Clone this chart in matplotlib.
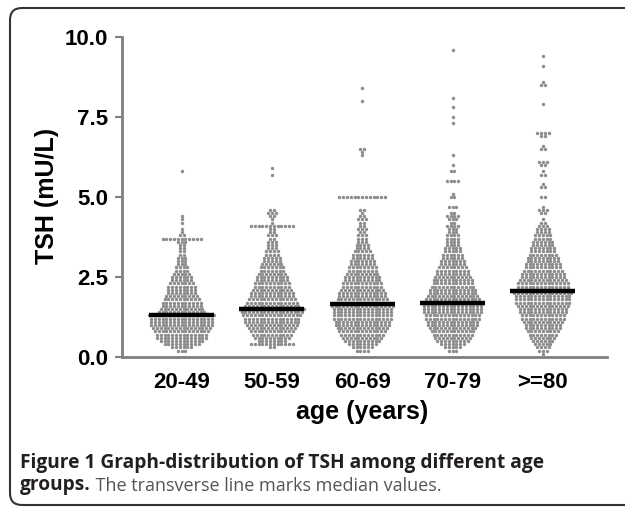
import numpy as np
import matplotlib.pyplot as plt
from matplotlib.patches import FancyBboxPatch

groups = ['20-49', '50-59', '60-69', '70-79', '>=80']
medians = [1.3, 1.5, 1.65, 1.7, 2.05]

# TSH value (mU/L) of each row of dots, and how many dots sit on it
g1_tsh = [0.2, 0.3, 0.4, 0.5, 0.6, 0.7, 0.8, 0.9, 1.0, 1.1, 1.2, 1.3, 1.4, 1.5, 1.6,
          1.7, 1.8, 1.9, 2.0, 2.1, 2.2, 2.3, 2.4, 2.5, 2.6, 2.7, 2.8, 2.9, 3.0, 3.1,
          3.2, 3.3, 3.4, 3.5, 3.6, 3.7, 3.8, 3.9, 4.0, 4.2, 4.3, 4.4, 5.8]
g1_n = [3, 6, 10, 12, 14, 14, 15, 16, 17, 17, 17, 18, 13, 12, 11,
        11, 10, 9, 8, 8, 8, 7, 6, 6, 5, 4, 4, 3, 3, 3,
        2, 2, 2, 2, 3, 11, 2, 1, 1, 1, 1, 1, 1]

g2_tsh = [0.3, 0.4, 0.5, 0.6, 0.7, 0.8, 0.9, 1.0, 1.1, 1.2, 1.3, 1.4, 1.5, 1.6, 1.7,
          1.8, 1.9, 2.0, 2.1, 2.2, 2.3, 2.4, 2.5, 2.6, 2.7, 2.8, 2.9, 3.0, 3.1, 3.2,
          3.3, 3.4, 3.5, 3.6, 3.7, 3.8, 3.9, 4.0, 4.1, 4.2, 4.3, 4.4, 4.5, 4.6, 5.7, 5.9]
g2_n = [2, 12, 8, 10, 11, 12, 13, 14, 15, 15, 16, 17, 18, 15, 14,
        13, 12, 12, 11, 10, 10, 9, 9, 8, 7, 7, 6, 5, 5, 4,
        4, 3, 3, 3, 2, 3, 2, 2, 12, 1, 1, 2, 3, 2, 1, 1]

g3_tsh = [0.2, 0.3, 0.4, 0.5, 0.6, 0.7, 0.8, 0.9, 1.0, 1.1, 1.2, 1.3, 1.4, 1.5, 1.6,
          1.7, 1.8, 1.9, 2.0, 2.1, 2.2, 2.3, 2.4, 2.5, 2.6, 2.7, 2.8, 2.9, 3.0, 3.1,
          3.2, 3.3, 3.4, 3.5, 3.6, 3.7, 3.8, 3.9, 4.0, 4.1, 4.2, 4.3, 4.4, 4.5, 4.6,
          5.0, 6.3, 6.4, 6.5, 8.0, 8.4]
g3_n = [4, 6, 8, 10, 11, 12, 13, 14, 15, 15, 16, 16, 16, 16, 17,
        15, 14, 13, 13, 12, 11, 11, 10, 10, 9, 8, 8, 7, 7, 6,
        6, 5, 4, 4, 3, 3, 3, 2, 3, 2, 2, 3, 2, 1, 2,
        13, 1, 1, 2, 1, 1]

g4_tsh = [0.2, 0.3, 0.4, 0.5, 0.6, 0.7, 0.8, 0.9, 1.0, 1.1, 1.2, 1.3, 1.4, 1.5, 1.6,
          1.7, 1.8, 1.9, 2.0, 2.1, 2.2, 2.3, 2.4, 2.5, 2.6, 2.7, 2.8, 2.9, 3.0, 3.1,
          3.2, 3.3, 3.4, 3.5, 3.6, 3.7, 3.8, 3.9, 4.0, 4.1, 4.2, 4.3, 4.4, 4.5, 4.7,
          5.0, 5.1, 5.5, 5.8, 6.0, 6.3, 7.3, 7.5, 7.8, 8.1, 9.6]
g4_n = [3, 5, 7, 9, 10, 11, 12, 13, 14, 14, 15, 15, 16, 16, 16,
        17, 15, 14, 13, 13, 12, 11, 11, 10, 9, 9, 8, 7, 7, 6,
        6, 5, 5, 4, 4, 4, 4, 3, 3, 4, 2, 3, 4, 2, 3,
        2, 1, 4, 2, 1, 1, 1, 1, 1, 1, 1]

g5_tsh = [0.1, 0.2, 0.3, 0.4, 0.5, 0.6, 0.7, 0.8, 0.9, 1.0, 1.1, 1.2, 1.3, 1.4, 1.5,
          1.6, 1.7, 1.8, 1.9, 2.0, 2.1, 2.2, 2.3, 2.4, 2.5, 2.6, 2.7, 2.8, 2.9, 3.0,
          3.1, 3.2, 3.3, 3.4, 3.5, 3.6, 3.7, 3.8, 3.9, 4.0, 4.1, 4.2, 4.3, 4.5, 4.6,
          4.7, 5.0, 5.3, 5.4, 5.7, 5.8, 6.0, 6.1, 6.5, 6.6, 6.9, 7.0, 7.9, 8.5, 8.6,
          9.1, 9.4]
g5_n = [1, 3, 4, 5, 6, 7, 8, 9, 10, 10, 11, 12, 12, 13, 13,
        14, 15, 15, 15, 16, 15, 14, 14, 13, 12, 12, 11, 10, 10, 9,
        9, 8, 7, 7, 6, 6, 5, 5, 4, 4, 3, 2, 1, 2, 3,
        1, 2, 2, 1, 2, 1, 2, 3, 2, 1, 2, 4, 1, 2, 1,
        1, 1]

all_tsh = [g1_tsh, g2_tsh, g3_tsh, g4_tsh, g5_tsh]
all_n = [g1_n, g2_n, g3_n, g4_n, g5_n]


def swarm(ax, pos, tsh, counts, step=0.042):
    # lay each row of equal values out side by side, centred on the group
    xs, ys = [], []
    for v, n in zip(tsh, counts):
        offs = (np.arange(n) - (n - 1) / 2) * step
        xs.extend(pos + offs)
        ys.extend([v] * n)
    ax.scatter(xs, ys, s=6, color='#8c8c8c', linewidths=0, zorder=2)


fig = plt.figure(figsize=(6.25, 5.07), dpi=100)
ax = fig.add_axes([122 / 625, 1 - 357 / 507, 485 / 625, 320 / 507])

for i in range(len(groups)):
    swarm(ax, i, all_tsh[i], all_n[i])
    ax.hlines(medians[i], i - 0.36, i + 0.36, color='black', lw=3.2, zorder=3)

ax.set_xlim(-0.66, 4.71)
ax.set_ylim(0, 10)
ax.set_yticks([0, 2.5, 5, 7.5, 10])
ax.set_yticklabels(['0.0', '2.5', '5.0', '7.5', '10.0'])
ax.set_xticks(range(len(groups)))
ax.set_xticklabels(groups)

for side in ['top', 'right']:
    ax.spines[side].set_visible(False)
for side in ['left', 'bottom']:
    ax.spines[side].set_color('#7f7f7f')
    ax.spines[side].set_linewidth(2)

ax.tick_params(axis='y', length=5, width=1.5, color='#7f7f7f', pad=5)
ax.tick_params(axis='x', length=0, pad=11)
for lab in ax.get_xticklabels() + ax.get_yticklabels():
    lab.set_family('Liberation Sans')
    lab.set_weight('bold')
    lab.set_size(16)

fig.text(362 / 625, 1 - 412 / 507, 'age (years)', ha='center', va='center',
         fontsize=18, fontweight='bold', family='Liberation Sans')
fig.text(47 / 625, 1 - 196 / 507, 'TSH (mU/L)', ha='center', va='center', rotation=90,
         fontsize=18, fontweight='bold', family='Liberation Sans')

# caption frame, cut off by the right edge like the journal page
box = FancyBboxPatch((0.1, 0.02), 6.4, 4.97, boxstyle='round,pad=0,rounding_size=0.12',
                     transform=fig.dpi_scale_trans, fc='none', ec='#333333', lw=1.5)
fig.add_artist(box)

fig.text(20 / 625, 1 - 468 / 507, 'Figure 1 Graph-distribution of TSH among different age',
         family='Open Sans', fontweight='bold', fontsize=13.8, color='#231f20', va='baseline')
t2 = fig.text(20 / 625, 1 - 490 / 507, 'groups.', family='Open Sans', fontweight='bold',
              fontsize=13.8, color='#231f20', va='baseline')
ax.annotate(' The transverse line marks median values.', xy=(1, 0), xycoords=t2,
            va='bottom', ha='left', family='Open Sans', fontsize=13, color='#555555',
            annotation_clip=False)

fig.savefig('out.png', dpi=100)
